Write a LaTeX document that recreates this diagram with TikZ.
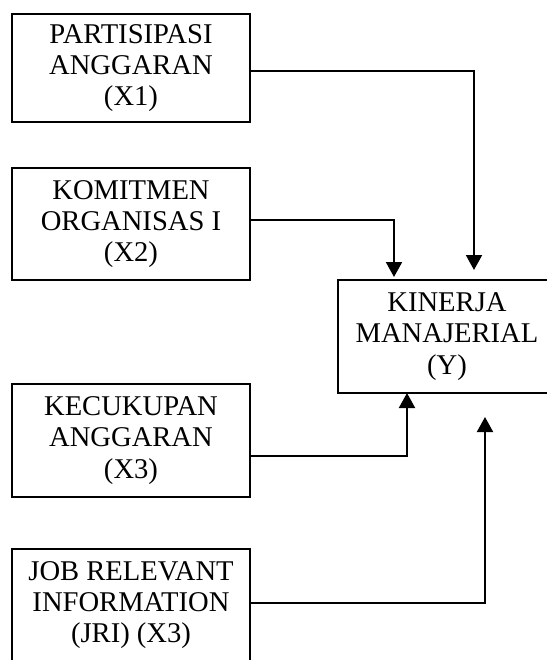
\documentclass[tikz,border=0pt]{standalone}
\usepackage{fontspec}
\setmainfont{Liberation Serif}
\usetikzlibrary{arrows.meta}

\begin{document}
\begin{tikzpicture}[x=0.5pt,y=-0.5pt,
    box/.style={draw,line width=1pt,minimum width=119pt,minimum height=54pt,align=center,inner sep=0pt,font=\fontsize{14.3}{15.7}\selectfont},
    arr/.style={line width=1pt,-{Triangle[width=8pt,length=7.5pt]}}]
    \useasboundingbox (0,0) rectangle (547,660);

    \node[box] (x1) at (131,68) {PARTISIPASI\\ANGGARAN\\(X1)};
    \node[box,minimum height=56pt] (x2) at (131,224) {KOMITMEN\\ORGANISAS I\\(X2)};
    \node[box,minimum height=56.5pt] (x3) at (131,440.5) {KECUKUPAN\\ANGGARAN\\(X3)};
    \node[box,minimum height=56pt] (jri) at (131,605) {JOB RELEVANT\\INFORMATION\\(JRI) (X3)};
    \node[box,minimum width=109pt,minimum height=56.5pt] (y) at (447,336.5) {KINERJA\\MANAJERIAL\\(Y)};

    \coordinate (t1) at (474,280);
    \coordinate (t2) at (394,280);
    \coordinate (t3) at (407,393);
    \coordinate (t4) at (485,393);

    \draw[arr,shorten >=5pt] ([yshift=-1.5pt]x1.east) -| (t1);
    \draw[arr,shorten >=1.5pt] ([yshift=2pt]x2.east) -| (t2);
    \draw[arr] ([yshift=-7.75pt]x3.east) -| (t3);
    \draw[arr,shorten >=12pt] ([yshift=1pt]jri.east) -| (t4);

\end{tikzpicture}
\end{document}
